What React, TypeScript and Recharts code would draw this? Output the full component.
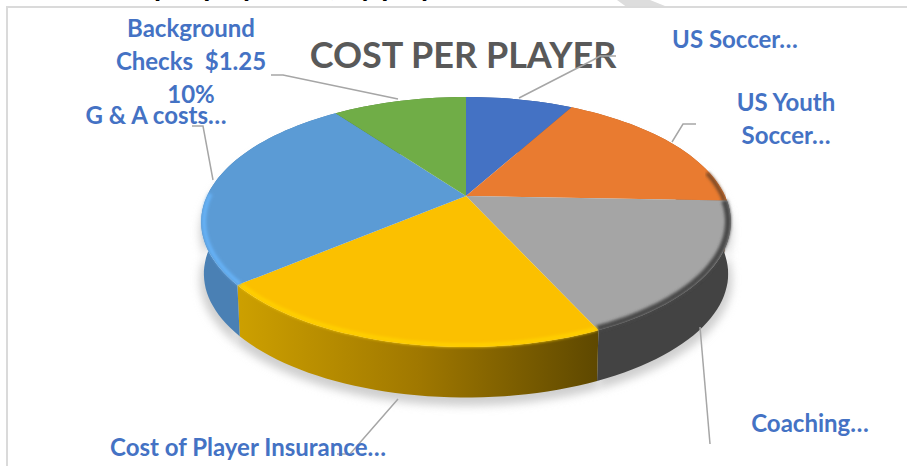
import React from "react";
import { PieChart, Pie, Cell } from "recharts";

const categories = [
  "US Soccer",
  "US Youth Soccer",
  "Coaching",
  "Cost of Player Insurance",
  "G & A costs",
  "Background Checks",
];
const costPerPlayer = [1.0, 2.2, 2.2, 2.58, 3.27, 1.25];
const labelLines = [
  ["US Soccer…"],
  ["US Youth", "Soccer…"],
  ["Coaching…"],
  ["Cost of Player Insurance…"],
  ["G & A costs…"],
  ["Background", "Checks  $1.25", "10%"],
];

const topColors = ["#4472C4", "#E97B30", "#A5A5A5", "#FBC000", "#5B9BD5", "#70AD47"];
const wallColors = ["#2f5597", "#ae5a21", "#434343", "url(#yellowWall)", "#4A80B4", "#507e32"];
const rimColors = ["#4472C4", "#7a4a28", "#4a4a4a", "#FFD000", "#66B2F7", "#70AD47"];

// x center and baseline y of first text line, then the leader line
const labelAnchors = [
  { x: 735, y: 48, leader: "519,98 593,60 600,56 616,56" },
  { x: 786, y: 111, leader: "672,142 683,124 696,124" },
  { x: 810, y: 432, leader: "700,327 710,444" },
  { x: 248, y: 456, leader: "398,399 350,454 337,454" },
  { x: 156, y: 124, leader: "192,126 203,126 213,180" },
  { x: 191, y: 37, leader: "271,75 283,75 398,99" },
];

const CX = 466;
const CY = 196;
const OUTER = 259;
const SQUASH = 0.4618;
const TILT = 0.208; // perspective, far edge is shorter
const DEPTH = 52;

// circle angle (recharts degrees) -> tilted disc on screen
function project(angle: number, r: number, cx: number, cy: number, k = 1) {
  const t = ((90 - angle) * Math.PI) / 180;
  const u = Math.sin(t) * k;
  const v = Math.cos(t) * k;
  const w = 1 + TILT * v;
  return [cx + (r * u) / w, cy - (r * SQUASH * v) / w];
}

function arcPoints(start: number, end: number, r: number, cx: number, cy: number, k = 1) {
  const n = Math.max(2, Math.ceil(Math.abs(end - start) / 2));
  const pts: number[][] = [];
  for (let i = 0; i <= n; i++) {
    pts.push(project(start + ((end - start) * i) / n, r, cx, cy, k));
  }
  return pts;
}

const toPath = (pts: number[][]) =>
  "M" + pts.map((p) => `${p[0].toFixed(1)},${p[1].toFixed(1)}`).join("L");

function TopSlice(props: any) {
  const { cx, cy, outerRadius, startAngle, endAngle, index } = props;
  const arc = arcPoints(startAngle, endAngle, outerRadius, cx, cy);
  // bevel only on the part of the rim that faces the viewer
  const minY = index === 1 ? cy - 25 : cy - 4;
  const rim = arcPoints(startAngle, endAngle, outerRadius, cx, cy, 0.99).filter((p) => p[1] > minY);
  return (
    <g>
      <path d={`M${cx},${cy}L` + toPath(arc).slice(1) + "Z"} fill={topColors[index]} />
      {rim.length > 1 && (
        <path
          d={toPath(rim)}
          fill="none"
          stroke={rimColors[index]}
          strokeWidth={index === 2 ? 6 : 4}
          filter="url(#rimBlur)"
        />
      )}
    </g>
  );
}

function WallSlice(props: any) {
  const { cx, cy, outerRadius, startAngle, endAngle, index } = props;
  const upper = arcPoints(startAngle, endAngle, outerRadius, cx, cy);
  const lower = arcPoints(startAngle, endAngle, outerRadius * 0.99, cx, cy + DEPTH).reverse();
  return <path d={toPath(upper.concat(lower)) + "Z"} fill={wallColors[index]} />;
}

function ShadowSlice(props: any) {
  const { cx, cy, outerRadius, startAngle, endAngle } = props;
  const upper = arcPoints(startAngle, endAngle, outerRadius * 1.005, cx, cy + 10);
  const lower = arcPoints(startAngle, endAngle, outerRadius * 1.005, cx, cy + DEPTH + 6).reverse();
  return <path d={toPath(upper.concat(lower)) + "Z"} fill="#cfcfcf" filter="url(#wallShadow)" />;
}

function SliceLabel(props: any) {
  const { index } = props;
  const a = labelAnchors[index];
  return (
    <g>
      <polyline points={a.leader} fill="none" stroke="#A6A6A6" strokeWidth={1.5} />
      <text textAnchor="middle" fontFamily="Lato" fontWeight={700} fontSize={24} fill="#4472C4">
        {labelLines[index].map((line, i) => (
          <tspan key={line} x={a.x} y={a.y + i * 33} style={{ whiteSpace: "pre" }}>
            {line}
          </tspan>
        ))}
      </text>
    </g>
  );
}

const pieData = categories.map((name, i) => ({ name, value: costPerPlayer[i] }));

export default function App() {
  const pieProps = {
    data: pieData,
    dataKey: "value",
    nameKey: "name",
    cx: CX,
    cy: CY,
    outerRadius: OUTER,
    startAngle: 90,
    endAngle: -270,
    stroke: "none",
    isAnimationActive: false,
  };
  return (
    <div style={{ position: "absolute", left: 0, top: 0, width: 907, height: 466, overflow: "hidden", background: "#fff" }}>
      <div
        style={{
          position: "absolute",
          left: 0,
          top: 0,
          width: 907,
          height: 8,
          background: "#DDDDDD",
          clipPath: "polygon(617px 0, 650px 0, 670px 8px, 628px 8px)",
        }}
      />
      <div style={{ position: "absolute", left: 6, top: 6, width: 901, height: 460, borderTop: "2px solid #DADADA", borderLeft: "2px solid #DADADA", boxSizing: "border-box" }} />
      <div style={{ position: "absolute", left: 0, top: 0 }}>
        <PieChart width={907} height={466} margin={{ top: 0, right: 0, bottom: 0, left: 0 }}>
          <defs>
            <linearGradient id="yellowWall" x1="0" y1="0" x2="1" y2="0">
              <stop offset="0" stopColor="#CDA000" />
              <stop offset="0.5" stopColor="#A07800" />
              <stop offset="1" stopColor="#5E4800" />
            </linearGradient>
            <filter id="rimBlur" x="-10%" y="-10%" width="120%" height="120%">
              <feGaussianBlur stdDeviation="1.4" />
            </filter>
            <filter id="wallShadow" x="-10%" y="-20%" width="120%" height="140%">
              <feGaussianBlur stdDeviation="4" />
            </filter>
          </defs>
          <text x={88} y={-4} fontFamily="Lato" fontWeight={700} fontSize={29} fill="#000">
            Cost per player fee, by player
          </text>
          <Pie {...pieProps} shape={ShadowSlice} />
          <Pie {...pieProps} shape={WallSlice} />
          <Pie {...pieProps} shape={TopSlice} label={SliceLabel} labelLine={false}>
            {categories.map((c, i) => (
              <Cell key={c} fill={topColors[i]} />
            ))}
          </Pie>
          <text x={463} y={68} textAnchor="middle" fontFamily="Lato" fontWeight={700} fontSize={36} fill="#595959">
            COST PER PLAYER
          </text>
        </PieChart>
      </div>
    </div>
  );
}
